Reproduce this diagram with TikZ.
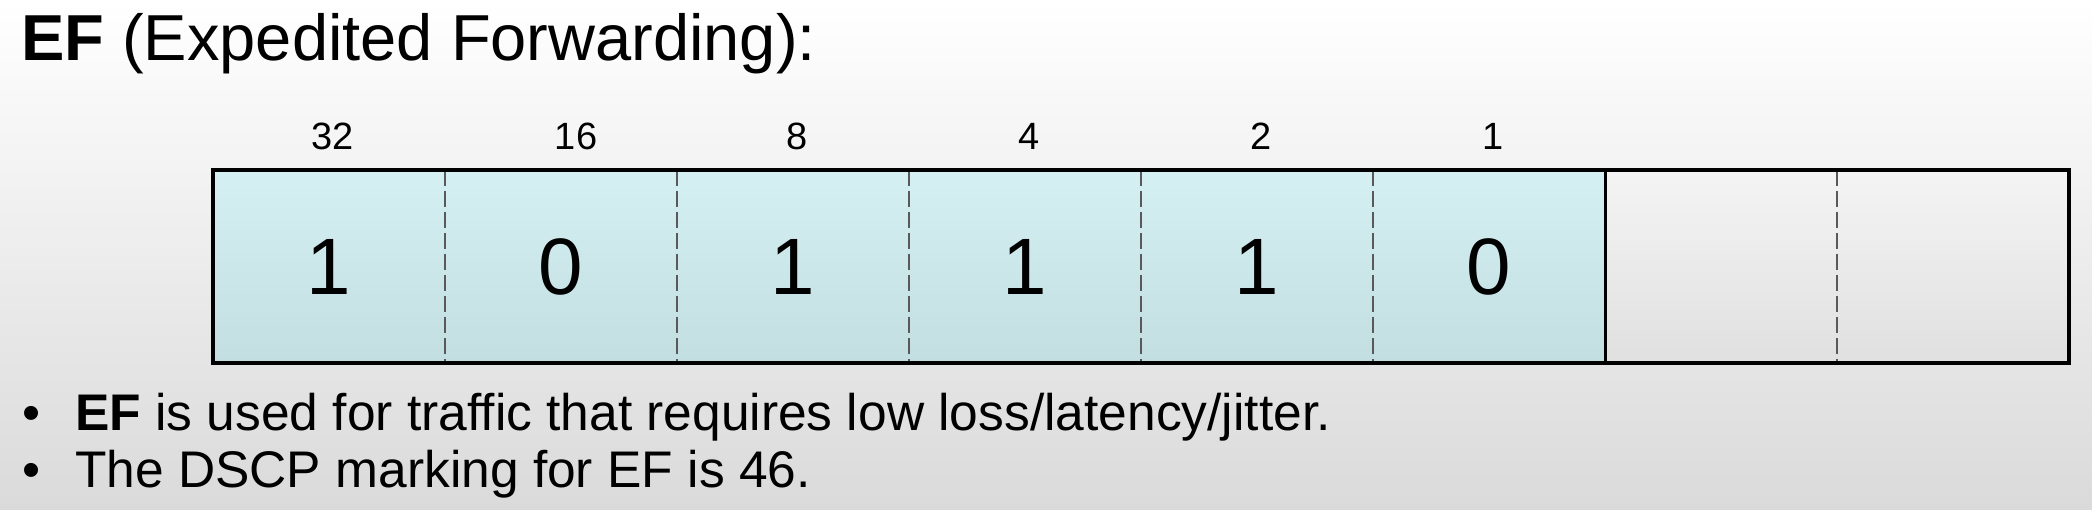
\documentclass[tikz,border=0pt]{standalone}
\usepackage{fontspec}
\setmainfont{Liberation Sans}
\usepackage{tikz}

\definecolor{bgBot}{HTML}{DADADA}
\definecolor{cellTop}{HTML}{D4F0F3}
\definecolor{cellBot}{HTML}{C2DEE1}
\definecolor{spareTop}{HTML}{F4F4F4}
\definecolor{spareBot}{HTML}{E0E0E0}

\begin{document}
\begin{tikzpicture}[x=1pt, y=-1pt,
  bit/.style = {minimum width=232pt, minimum height=193pt, inner sep=0pt, top color=cellTop, bottom color=cellBot, font=\fontsize{80}{96}\selectfont},
  spare/.style = {bit, top color=spareTop, bottom color=spareBot},
  weight/.style = {anchor=base, inner sep=0pt, xshift=4pt, font=\fontsize{38}{46}\selectfont},
  point/.style = {anchor=base west, inner sep=0pt, font=\fontsize{51.5}{62}\selectfont},
  divider/.style = {draw=gray!70!black, line width=1.5pt, dash pattern=on 16pt off 5pt},
  frame/.style = {line width=4pt}]

%% background
\shade[top color=white, bottom color=bgBot] (0,0) rectangle (2092,509);
\useasboundingbox (0,0) rectangle (2092,509);

%% title
\node[anchor=base west, inner sep=0pt, font=\fontsize{65}{78}\selectfont] (title) at (21,60) {\textbf{EF} (Expedited Forwarding):};

%% DSCP bits
\node[bit] (c1) at (329,266.5) {1};
\node[bit] (c2) at (561,266.5) {0};
\node[bit] (c3) at (793,266.5) {1};
\node[bit] (c4) at (1025,266.5) {1};
\node[bit] (c5) at (1257,266.5) {1};
\node[bit] (c6) at (1489,266.5) {0};
\node[spare] (c7) at (1721,266.5) {};
\node[spare] (c8) at (1953,266.5) {};

%% bit values
\node[weight] (w32) at ([yshift=20pt]c1.north) {32};
\node[weight] (w16) at ([xshift=11pt, yshift=20pt]c2.north) {16};
\node[weight] (w8) at ([yshift=20pt]c3.north) {8};
\node[weight] (w4) at ([yshift=20pt]c4.north) {4};
\node[weight] (w2) at ([yshift=20pt]c5.north) {2};
\node[weight] (w1) at ([yshift=20pt]c6.north) {1};

%%% dividers
\draw[divider] (c1.north east) -- (c1.south east);
\draw[divider] (c2.north east) -- (c2.south east);
\draw[divider] (c3.north east) -- (c3.south east);
\draw[divider] (c4.north east) -- (c4.south east);
\draw[divider] (c5.north east) -- (c5.south east);
\draw[divider] (c7.north east) -- (c7.south east);
\draw[line width=3pt] (c6.north east) -- (c6.south east);
\draw[frame] (c1.north west) rectangle (c8.south east);

%% notes
\node[point] (dot1) at (22,430) {•};
\node[point] (note1) at (75,430) {\textbf{EF} is used for traffic that requires low loss/latency/jitter.};
\node[point] (dot2) at (22,487) {•};
\node[point] (note2) at (75,487) {The DSCP marking for EF is 46.};

\end{tikzpicture}
\end{document}
